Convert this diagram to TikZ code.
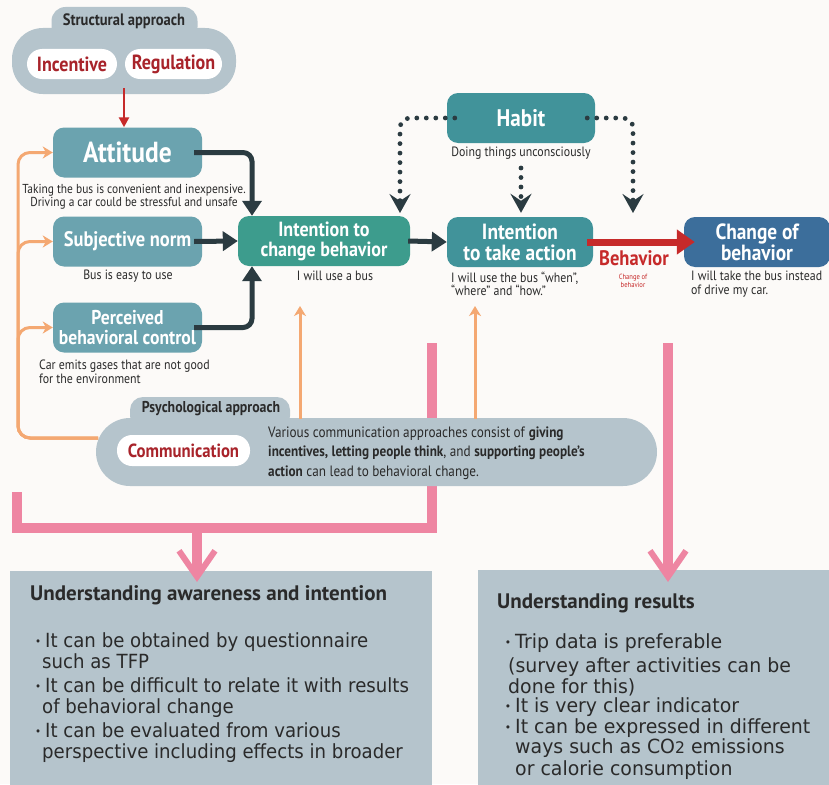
\documentclass[tikz,border=0pt]{standalone}
\usepackage{fontspec}
\usetikzlibrary{arrows.meta}
\newfontfamily\cf[FakeStretch=0.88]{PT Sans}
\newfontfamily\tf{PT Sans}
\newfontfamily\lf[FakeStretch=0.93]{DejaVu Sans}
\newfontfamily\rf[FakeStretch=0.97]{DejaVu Sans}
\newcommand\fsz[1]{\fontsize{#1}{#1}\selectfont}
\newcommand\bul{\llap{\raisebox{2pt}{\fsz{11}•}\hspace{4pt}}}
\definecolor{bgc}{HTML}{FCFAF8}
\definecolor{greyc}{HTML}{B5C4CC}
\definecolor{lightteal}{HTML}{6BA3AF}
\definecolor{greenteal}{HTML}{3D9C8D}
\definecolor{teal}{HTML}{41939A}
\definecolor{bluec}{HTML}{3C6E9B}
\definecolor{darkc}{HTML}{2B3B41}
\definecolor{redc}{HTML}{C62A2A}
\definecolor{pillred}{HTML}{A8232A}
\definecolor{orangec}{HTML}{F4A872}
\definecolor{pinkc}{HTML}{EE85A2}
\definecolor{textc}{HTML}{2A2A2A}
\begin{document}
\begin{tikzpicture}[x=1pt,y=-1pt,
  greybox/.style={rectangle, fill=greyc, inner sep=0pt},
  tabtitle/.style={font=\cf\bfseries\fsz{16.5}, text=textc, inner sep=0pt},
  pill/.style={rectangle, fill=white, rounded corners=15pt, inner sep=0pt,
    text=pillred, font=\cf\bfseries\fsz{20.5}},
  tbox/.style={rectangle, rounded corners=11pt, inner sep=0pt, text=white,
    align=center, font=\cf\bfseries\fsz{21}, minimum height=50},
  desc/.style={font=\cf\fsz{13.5}, text=textc, inner sep=0pt},
  darkarrow/.style={draw=darkc, line width=5pt, rounded corners=9pt,
    -{Triangle[width=19pt,length=15pt]}},
  dotarrow/.style={draw=darkc, line width=4.8pt, dash pattern=on 0pt off 9.5pt,
    line cap=round, rounded corners=10pt,
    -{Stealth[width=21pt,length=19pt,inset=7pt]}},
  orangearrow/.style={draw=orangec, line width=3pt, rounded corners=12pt,
    -{Stealth[width=12pt,length=10pt,inset=3pt]}},
  pinkline/.style={draw=pinkc, line width=9.5pt},
  pinkarrow/.style={draw=pinkc, line width=9.5pt,
    -{Straight Barb[width=36pt,length=26pt,line width=6pt]}},
  ltext/.style={anchor=base west, inner sep=0pt, text=textc, font=\lf\fsz{19.5}},
  rtext/.style={anchor=base west, inner sep=0pt, text=textc, font=\rf\fsz{19.5}},
  btitle/.style={anchor=base west, inner sep=0pt, text=textc, font=\tf\bfseries\fsz{21}}
]
\useasboundingbox (0,0) rectangle (829,784);
\fill[bgc] (0,0) rectangle (829,784);

% evaluation boxes at the bottom
\node[greybox, minimum width=422, minimum height=220] (lbox) at (221,681) {};
\node[greybox, minimum width=354, minimum height=220] (rbox) at (655,680) {};

% pink feedback lines
\coordinate (pt1) at (432,343);
\coordinate (pt2) at (668,343);
\coordinate (pl) at (17,492);
\coordinate (pj) at (197,528);
\coordinate (pa1) at (197,582);
\coordinate (pa2) at (668,582);
\draw[pinkline] (pt1) -- (432,528) -- (17,528) -- (pl);
\draw[pinkarrow] (pj) -- (pa1);
\draw[pinkarrow] (pt2) -- (pa2);

% structural approach
\node[greybox, minimum width=224, minimum height=66, rounded corners=31pt] (structbody) at (124,61) {};
\node[greybox, minimum width=146, minimum height=34, rounded corners=14pt] (structtab) at (124.5,24) {};
\node[tabtitle] (structtitle) at (124,21.5) {Structural approach};
\node[pill, minimum width=90, minimum height=30] (incentive) at (72,64) {Incentive};
\node[pill, minimum width=97, minimum height=30] (regulation) at (173.5,64) {Regulation};

% determinants
\node[tbox, fill=lightteal, minimum width=149, font=\cf\bfseries\fsz{29}] (att) at (127.5,152.5) {Attitude};
\node[tbox, fill=lightteal, minimum width=149] (subj) at (127.5,241.5) {Subjective norm};
\node[tbox, fill=lightteal, minimum width=149, font=\cf\bfseries\fontsize{20}{19.5}\selectfont] (perc) at (127.5,327.5) {Perceived\\behavioral control};
\node[tbox, fill=greenteal, minimum width=172, font=\cf\bfseries\fontsize{20.5}{20}\selectfont] (ichange) at (324,241) {Intention to\\change behavior};
\node[tbox, fill=teal, minimum width=148, font=\cf\bfseries\fsz{24}] (habit) at (521,118) {Habit};
\node[tbox, fill=teal, minimum width=146, font=\cf\bfseries\fontsize{22}{21}\selectfont] (action) at (520,242) {Intention\\to take action};
\node[tbox, fill=bluec, minimum width=146, font=\cf\bfseries\fontsize{22}{21}\selectfont] (change) at (757,242) {Change of\\behavior};

% descriptions
\node[desc, align=center, font=\cf\fsz{13}] (attdesc) at (134,197) {Taking the bus is convenient and inexpensive.\\Driving a car could be stressful and unsafe};
\node[desc] (subjdesc) at (128,276) {Bus is easy to use};
\node[desc, align=left, anchor=west] (percdesc) at (39,372) {Car emits gases that are not good\\for the environment};
\node[desc] (ichdesc) at (335,276) {I will use a bus};
\node[desc] (habitdesc) at (521,153) {Doing things unconsciously};
\node[desc, align=left, anchor=west] (actdesc) at (451,284) {I will use the bus “when”,\\“where” and “how.”};
\node[desc, align=left, anchor=west] (chdesc) at (691,284) {I will take the bus instead\\of drive my car.};
\node[inner sep=0pt, text=redc, font=\cf\bfseries\fsz{21}] (behlabel) at (634,258) {Behavior};
\node[inner sep=0pt, text=redc, align=center, font=\cf\fontsize{7.5}{8}\selectfont] (behsub) at (633,281) {Change of\\behavior};

% structural measures act on attitude
\draw[draw=redc, line width=2.5pt, -{Triangle[width=10pt,length=10pt]}]
  ([yshift=6pt]structbody.south) -- (att.north -| structbody.south);

% theory of planned behaviour
\draw[darkarrow] ([xshift=-8pt]att.east) -| ([xshift=-72pt]ichange.north);
\draw[darkarrow] ([xshift=-8pt]subj.east) -- (ichange.west);
\draw[darkarrow] ([xshift=-8pt]perc.east) -| ([xshift=-72pt]ichange.south);
\draw[darkarrow] ([xshift=-2pt]ichange.east) -- (action.west);
\draw[draw=redc, line width=7pt, shorten >=-11pt, -{Triangle[width=24pt,length=18pt]}]
  ([xshift=-6pt]action.east) -- (change.west);

% habit
\coordinate (hl) at (400,213);
\coordinate (hm) at (521,168);
\coordinate (hr) at (633,213);
\draw[dotarrow] ([xshift=8pt]habit.west) -- (400,118) -- (hl);
\draw[dotarrow, shorten >=4pt] (hm) -- (action.north -| hm);
\draw[dotarrow] ([xshift=-8pt]habit.east) -- (633,118) -- (hr);

% psychological approach
\node[greybox, minimum width=561, minimum height=68, rounded corners=34pt] (psybody) at (376.5,452) {};
\node[greybox, minimum width=160, minimum height=32, rounded corners=13pt] (psytab) at (210,413) {};
\node[tabtitle, font=\cf\bfseries\fsz{15.7}] (psytitle) at (211,409) {Psychological approach};
\node[pill, minimum width=133, minimum height=31, font=\cf\bfseries\fsz{19}] (comm) at (183.5,450.5) {Communication};
\node[desc, align=left, anchor=west, font=\cf\fontsize{15}{19.5}\selectfont] (commdesc) at (268,453)
  {Various communication approaches consist of \textbf{giving}\\
   \textbf{incentives, letting people think}, and \textbf{supporting people’s}\\
   \textbf{action} can lead to behavioral change.};

% communication feeds every determinant and intention
\coordinate (oc) at (98,438);
\draw[orangearrow] (oc) -- (18,438) |- (att.west);
\draw[orangearrow] (oc) -- (18,438) |- (subj.west);
\draw[orangearrow] (oc) -- (18,438) |- (perc.west);
\coordinate (ou1) at (300,419);
\coordinate (ou1e) at (300,306);
\coordinate (ou2) at (475,419);
\coordinate (ou2e) at (475,306);
\draw[orangearrow] (ou1) -- (ou1e);
\draw[orangearrow] (ou2) -- (ou2e);

% evaluation texts
\node[btitle] (ltitle) at (30,600) {Understanding awareness and intention};
\node[ltext] (l1) at (45,647) {\bul It can be obtained by questionnaire};
\node[ltext] (l2) at (42,668) {such as TFP};
\node[ltext] (l3) at (45,692) {\bul It can be difficult to relate it with results};
\node[ltext] (l4) at (42,713) {of behavioral change};
\node[ltext] (l5) at (45,737) {\bul It can be evaluated from various};
\node[ltext] (l6) at (42,758) {perspective including effects in broader};

\node[btitle] (rtitle) at (497,608) {Understanding results};
\node[rtext] (r1) at (515,648) {\bul Trip data is preferable};
\node[rtext] (r2) at (508,672) {(survey after activities can be};
\node[rtext] (r3) at (508,693) {done for this)};
\node[rtext] (r4) at (515,712) {\bul It is very clear indicator};
\node[rtext] (r5) at (515,733) {\bul It can be expressed in different};
\node[rtext] (r6) at (515,753) {ways such as CO{\fsz{16}2} emissions};
\node[rtext] (r7) at (515,775) {or calorie consumption};
\end{tikzpicture}
\end{document}
